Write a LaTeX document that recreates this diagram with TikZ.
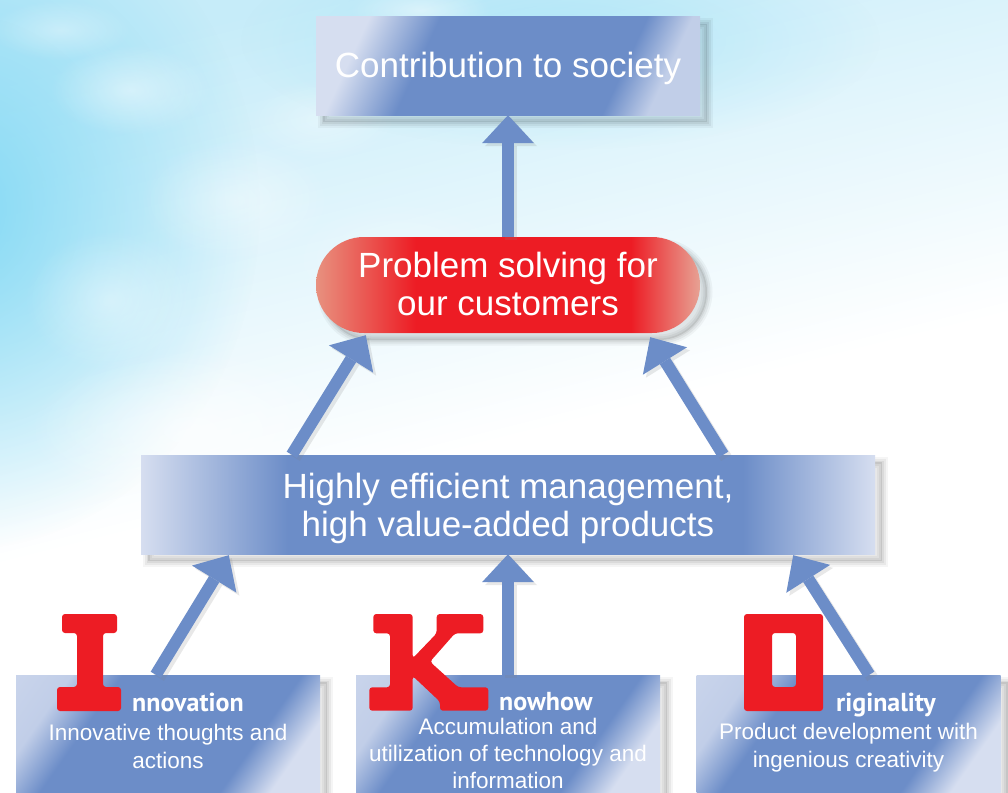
\documentclass[tikz,border=0pt]{standalone}
\usepackage{fontspec}
\setmainfont{Liberation Sans}
\newfontfamily\headfont{PT Sans}
\usetikzlibrary{arrows.meta,fadings,calc}

\definecolor{boxblue}{HTML}{6C8DC8}
\definecolor{boxlight}{HTML}{D6DEF0}
\definecolor{logored}{HTML}{ED1C24}
\definecolor{redlight}{HTML}{E8917F}
\definecolor{redend}{HTML}{E7A294}
\definecolor{skycyan}{HTML}{80D8F4}
\definecolor{skypale}{HTML}{C6ECF9}

% gloss shadings for the panels
\pgfdeclarehorizontalshading{topshade}{100bp}{color(0bp)=(boxlight); color(25bp)=(boxlight); color(36bp)=(boxblue); color(68bp)=(boxblue); color(75bp)=(boxlight!80!boxblue); color(100bp)=(boxlight!80!boxblue)}
\pgfdeclarehorizontalshading{midshade}{100bp}{color(0bp)=(boxlight); color(25bp)=(boxlight); color(35bp)=(boxblue); color(66bp)=(boxblue); color(75bp)=(boxlight); color(100bp)=(boxlight)}
\pgfdeclarehorizontalshading{lowshade}{100bp}{color(0bp)=(boxlight); color(25bp)=(boxlight!80!boxblue); color(34bp)=(boxblue); color(66bp)=(boxblue); color(75bp)=(boxlight); color(100bp)=(boxlight)}
\pgfdeclarehorizontalshading{redshade}{100bp}{color(0bp)=(redlight); color(25bp)=(redlight); color(38bp)=(logored); color(66bp)=(logored); color(75bp)=(redend); color(100bp)=(redend)}
% sky: pale at the top, white from the middle down
\pgfdeclareverticalshading{skyband}{100bp}{color(0bp)=(white); color(50bp)=(white); color(75bp)=(skypale); color(100bp)=(skypale)}

\tikzfading[name=softblob, inner color=transparent!0, outer color=transparent!100]

\tikzset{
  % soft drop shadow built from stacked translucent strokes
  softshadow/.style={
    preaction={fill=black, fill opacity=0.09, transform canvas={shift={(7pt,-7pt)}}},
    preaction={draw=black, draw opacity=0.06, line width=3pt, transform canvas={shift={(7pt,-7pt)}}},
    preaction={draw=black, draw opacity=0.05, line width=7pt, transform canvas={shift={(7pt,-7pt)}}},
    preaction={draw=black, draw opacity=0.04, line width=11pt, transform canvas={shift={(7pt,-7pt)}}}},
  panel/.style={rectangle, inner sep=0pt, shade, softshadow},
  topbox/.style={panel, shading=topshade, shading angle=-25, minimum width=384pt, minimum height=98pt},
  redbox/.style={panel, shading=redshade, rounded corners=48pt, minimum width=384pt, minimum height=96pt},
  midbox/.style={panel, shading=midshade, minimum width=734pt, minimum height=99pt},
  lowbox/.style={panel, shading=lowshade, shading angle=-35, minimum width=304pt, minimum height=125pt},
  bigtext/.style={text=white, inner sep=0pt, align=center, anchor=north, font=\fontsize{35}{38}\selectfont},
  smalltext/.style={text=white, inner sep=0pt, align=center, anchor=north, font=\fontsize{22.5}{28}\selectfont},
  headtext/.style={text=white, inner sep=0pt, anchor=base west, font=\headfont\bfseries\fontsize{26}{28}\selectfont},
  letterred/.style={fill=logored, rounded corners=3pt},
  flowarrow/.style={draw=boxblue, line width=12pt,
    -{Triangle[length=28pt, width=52pt, line width=0pt]}},
  flowshadow/.style={flowarrow, draw=black!50, opacity=0.18,
    transform canvas={shift={(3pt,-3pt)}}},
  cloud/.style={fill=white, path fading=softblob},
}

\begin{document}
\begin{tikzpicture}[x=1pt, y=-1pt]
\useasboundingbox (0,0) rectangle (1008,792);

% sky
\begin{scope}
  \clip (0,0) rectangle (1008,792);
  \fill[white] (0,0) rectangle (1008,792);
  \shade[shading=skyband, shading angle=14] (-40,-20) rectangle (1048,900);
  \fill[skycyan, path fading=softblob, opacity=0.95] (-40,210) ellipse (300 and 340);
  \fill[skycyan, path fading=softblob, opacity=0.4] (560,40) ellipse (320 and 110);
  \fill[cloud, opacity=0.45] (130,90) ellipse (80 and 45);
  \fill[cloud, opacity=0.4] (235,200) ellipse (95 and 60);
  \fill[cloud, opacity=0.4] (110,300) ellipse (85 and 70);
  \fill[cloud, opacity=0.35] (320,120) ellipse (75 and 40);
  \fill[cloud, opacity=0.35] (60,30) ellipse (70 and 30);
  \fill[cloud, opacity=0.6] (190,430) ellipse (160 and 80);
  \fill[cloud, opacity=0.3] (400,260) ellipse (110 and 60);
  \fill[cloud, opacity=0.45] (420,10) ellipse (70 and 25);
\end{scope}

% panels
\node[topbox] (society) at (508,66) {};
\node[redbox] (problem) at (508,285) {};
\node[midbox] (management) at (508,504.5) {};
\node[lowbox] (innov) at (168,737.5) {};
\node[lowbox] (know) at (508,737.5) {};
\node[lowbox] (orig) at (848.5,737.5) {};

% connectors
\draw[flowshadow] (problem.north) -- (society.south);
\draw[flowshadow] ($(management.north west)+(151,0)$) -- ($(problem.south west)+(50,2)$);
\draw[flowshadow] ($(management.north east)+(-152,0)$) -- ($(problem.south east)+(-50,4)$);
\draw[flowshadow] ($(innov.north west)+(140,0)$) -- ($(management.south west)+(88,1)$);
\draw[flowshadow] (know.north) -- (management.south);
\draw[flowshadow] ($(orig.north west)+(173,0)$) -- ($(management.south east)+(-82,1)$);

\draw[flowarrow] (problem.north) -- (society.south);
\draw[flowarrow] ($(management.north west)+(151,0)$) -- ($(problem.south west)+(50,2)$);
\draw[flowarrow] ($(management.north east)+(-152,0)$) -- ($(problem.south east)+(-50,4)$);
\draw[flowarrow] ($(innov.north west)+(140,0)$) -- ($(management.south west)+(88,1)$);
\draw[flowarrow] (know.north) -- (management.south);
\draw[flowarrow] ($(orig.north west)+(173,0)$) -- ($(management.south east)+(-82,1)$);

% panel texts
\node[bigtext] (society-txt) at ($(society.north)+(0,35)$) {Contribution to society};
\node[bigtext] (problem-txt) at ($(problem.north)+(0,15)$) {Problem solving for\\our customers};
\node[bigtext] (management-txt) at ($(management.north)+(0,18)$) {Highly efficient management,\\high value-added products};

\node[headtext] (innov-head) at (132,711) {nnovation};
\node[headtext] (know-head) at (499,710) {nowhow};
\node[headtext] (orig-head) at (836,711) {riginality};

\node[smalltext] (innov-txt) at ($(innov.north)+(0,49)$) {Innovative thoughts and\\actions};
\node[smalltext, font=\fontsize{22.5}{27}\selectfont] (know-txt) at ($(know.north)+(0,43)$) {Accumulation and\\utilization of technology and\\information};
\node[smalltext] (orig-txt) at ($(orig.north)+(0,48)$) {Product development with\\ingenious creativity};

% red initials
\fill[letterred] (62,614) -- (117,614) -- (117,633) -- (103,633) -- (103,687) -- (121,687)
  -- (121,711) -- (57,711) -- (57,687) -- (77,687) -- (77,633) -- (62,633) -- cycle;
\fill[letterred] (373.3,614) -- (412.7,614) -- (412.7,658.3) -- (436.7,633.3) -- (436.7,614)
  -- (483.3,614) -- (483.3,633.3) -- (455,633.3) -- (430,661.7) -- (458.3,687.3)
  -- (488.3,687.3) -- (488.3,710.7) -- (440,710.7) -- (440,701.7) -- (412.7,676)
  -- (412.7,710.7) -- (369.3,710.7) -- (369.3,687.3) -- (390,687.3) -- (390,633.3)
  -- (373.3,633.3) -- cycle;
\fill[letterred, even odd rule] (744,614) -- (823,614) -- (823,711) -- (744,711) -- cycle
  (772,633) -- (796,633) -- (796,687) -- (772,687) -- cycle;
\end{tikzpicture}
\end{document}
